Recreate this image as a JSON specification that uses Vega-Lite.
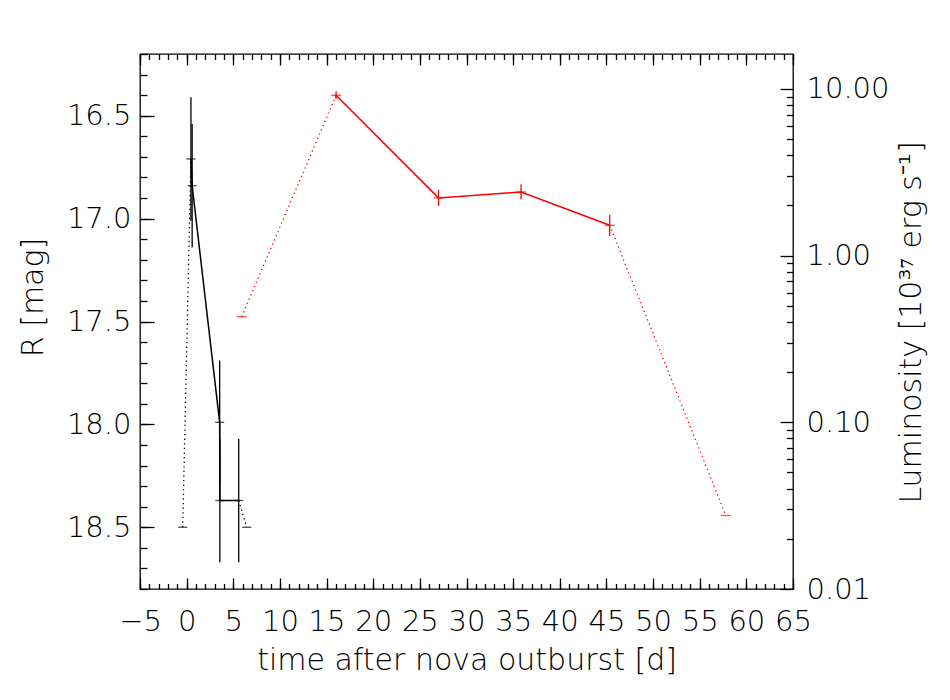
{
  "$schema": "https://vega.github.io/schema/vega-lite/v6.json",
  "autosize": "none",
  "width": 653,
  "height": 535,
  "padding": {"left": 140, "top": 54, "right": 157, "bottom": 111},
  "background": "white",
  "config": {
    "view": {"stroke": "black", "strokeWidth": 1.3},
    "axis": {
      "domain": false,
      "grid": false,
      "labelFont": "DejaVu Sans",
      "labelFontSize": 29,
      "labelFontWeight": 200,
      "labelColor": "black",
      "labelFlush": false,
      "labelOverlap": false,
      "labelBound": false,
      "tickColor": "black",
      "tickWidth": 1.3,
      "titleFont": "DejaVu Sans",
      "titleFontSize": 30,
      "titleFontWeight": 200,
      "titleColor": "black"
    }
  },
  "datasets": {
    "opt": [
      {"t": -0.42, "mag": 18.5, "lo": null, "hi": null},
      {"t": 0.46, "mag": 16.71, "lo": 16.41, "hi": 17.01},
      {"t": 0.59, "mag": 16.84, "lo": 16.54, "hi": 17.14},
      {"t": 3.54, "mag": 17.99, "lo": 17.69, "hi": 18.29},
      {"t": 3.56, "mag": 18.37, "lo": 18.07, "hi": 18.67},
      {"t": 5.58, "mag": 18.37, "lo": 18.07, "hi": 18.67},
      {"t": 6.44, "mag": 18.5, "lo": null, "hi": null}
    ],
    "optLine": [
      {"seg": "d1", "style": "dotted", "seq": 1, "t": -0.42, "mag": 18.5},
      {"seg": "d1", "style": "dotted", "seq": 2, "t": 0.46, "mag": 16.71},
      {"seg": "s1", "style": "solid", "seq": 1, "t": 0.46, "mag": 16.71},
      {"seg": "s1", "style": "solid", "seq": 2, "t": 0.59, "mag": 16.84},
      {"seg": "s1", "style": "solid", "seq": 3, "t": 3.54, "mag": 17.99},
      {"seg": "s1", "style": "solid", "seq": 4, "t": 3.56, "mag": 18.37},
      {"seg": "s1", "style": "solid", "seq": 5, "t": 5.58, "mag": 18.37},
      {"seg": "d2", "style": "dotted", "seq": 1, "t": 5.58, "mag": 18.37},
      {"seg": "d2", "style": "dotted", "seq": 2, "t": 6.44, "mag": 18.5}
    ],
    "lum": [
      {"t": 5.9, "L": 0.43, "lo": null, "hi": null},
      {"t": 16.02, "L": 9.16, "lo": 8.67, "hi": 9.68},
      {"t": 27.0, "L": 2.22, "lo": 1.99, "hi": 2.48},
      {"t": 35.85, "L": 2.41, "lo": 2.17, "hi": 2.68},
      {"t": 45.35, "L": 1.52, "lo": 1.31, "hi": 1.76},
      {"t": 57.8, "L": 0.0276, "lo": null, "hi": null}
    ],
    "lumLine": [
      {"seg": "d1", "style": "dotted", "seq": 1, "t": 5.9, "L": 0.43},
      {"seg": "d1", "style": "dotted", "seq": 2, "t": 16.02, "L": 9.16},
      {"seg": "s1", "style": "solid", "seq": 1, "t": 16.02, "L": 9.16},
      {"seg": "s1", "style": "solid", "seq": 2, "t": 27.0, "L": 2.22},
      {"seg": "s1", "style": "solid", "seq": 3, "t": 35.85, "L": 2.41},
      {"seg": "s1", "style": "solid", "seq": 4, "t": 45.35, "L": 1.52},
      {"seg": "d2", "style": "dotted", "seq": 1, "t": 45.35, "L": 1.52},
      {"seg": "d2", "style": "dotted", "seq": 2, "t": 57.8, "L": 0.0276}
    ]
  },
  "layer": [
    {
      "layer": [
        {
          "data": {"name": "opt"},
          "transform": [{"filter": "datum.lo != null"}],
          "mark": {"type": "rule", "color": "black", "strokeWidth": 1.3},
          "encoding": {
            "x": {"field": "t", "type": "quantitative", "scale": {"domain": [-5, 65], "nice": false, "zero": false},
              "axis": {"orient": "bottom", "ticks": false, "labelPadding": 18, "format": "d",
                "values": [-5, 0, 5, 10, 15, 20, 25, 30, 35, 40, 45, 50, 55, 60, 65],
                "title": "time after nova outburst [d]", "titleY": 71, "titleBaseline": "middle"}},
            "y": {"field": "lo", "type": "quantitative", "scale": {"domain": [16.2, 18.8], "reverse": true, "nice": false, "zero": false},
              "axis": {"orient": "left", "ticks": false, "labelPadding": 9, "format": ".1f",
                "values": [16.5, 17.0, 17.5, 18.0, 18.5],
                "title": "R [mag]", "titleX": -107, "titleY": 243, "titleBaseline": "middle", "titleAngle": 270}},
            "y2": {"field": "hi"}
          }
        },
        {
          "data": {"name": "opt"},
          "mark": {"type": "tick", "orient": "horizontal", "color": "black", "size": 9, "thickness": 1.3},
          "encoding": {
            "x": {"field": "t", "type": "quantitative", "scale": {"domain": [-5, 65], "nice": false, "zero": false},
              "axis": {"orient": "bottom", "labels": false, "tickSize": -11, "title": null,
                "values": [-5, 0, 5, 10, 15, 20, 25, 30, 35, 40, 45, 50, 55, 60, 65]}},
            "y": {"field": "mag", "type": "quantitative",
              "axis": {"orient": "left", "labels": false, "tickSize": -14, "title": null,
                "values": [16.5, 17.0, 17.5, 18.0, 18.5]}}
          }
        },
        {
          "data": {"name": "optLine"},
          "transform": [{"filter": "datum.style == 'solid'"}],
          "mark": {"type": "line", "color": "black", "strokeWidth": 1.5},
          "encoding": {
            "x": {"field": "t", "type": "quantitative", "scale": {"domain": [-5, 65], "nice": false, "zero": false},
              "axis": {"orient": "bottom", "labels": false, "tickSize": -5.5, "title": null,
                "values": [-5, -4, -3, -2, -1, 0, 1, 2, 3, 4, 5, 6, 7, 8, 9, 10, 11, 12, 13, 14, 15, 16, 17, 18, 19, 20, 21, 22, 23, 24, 25, 26, 27, 28, 29, 30, 31, 32, 33, 34, 35, 36, 37, 38, 39, 40, 41, 42, 43, 44, 45, 46, 47, 48, 49, 50, 51, 52, 53, 54, 55, 56, 57, 58, 59, 60, 61, 62, 63, 64, 65]}},
            "y": {"field": "mag", "type": "quantitative",
              "axis": {"orient": "left", "labels": false, "tickSize": -7, "title": null,
                "values": [16.2, 16.3, 16.4, 16.5, 16.6, 16.7, 16.8, 16.9, 17.0, 17.1, 17.2, 17.3, 17.4, 17.5, 17.6, 17.7, 17.8, 17.9, 18.0, 18.1, 18.2, 18.3, 18.4, 18.5, 18.6, 18.7, 18.8]}},
            "detail": {"field": "seg"},
            "order": {"field": "seq", "type": "quantitative"}
          }
        },
        {
          "data": {"name": "optLine"},
          "transform": [{"filter": "datum.style == 'dotted'"}],
          "mark": {"type": "line", "color": "black", "strokeWidth": 1.3, "strokeDash": [1.3, 3.3]},
          "encoding": {
            "x": {"field": "t", "type": "quantitative", "scale": {"domain": [-5, 65], "nice": false, "zero": false},
              "axis": {"orient": "top", "labels": false, "tickSize": -11, "title": null,
                "values": [-5, 0, 5, 10, 15, 20, 25, 30, 35, 40, 45, 50, 55, 60, 65]}},
            "y": {"field": "mag", "type": "quantitative", "axis": null},
            "detail": {"field": "seg"},
            "order": {"field": "seq", "type": "quantitative"}
          }
        }
      ],
      "resolve": {"axis": {"x": "independent", "y": "independent"}}
    },
    {
      "layer": [
        {
          "data": {"name": "lum"},
          "transform": [{"filter": "datum.lo != null"}],
          "mark": {"type": "rule", "color": "#ff0000", "strokeWidth": 1.3},
          "encoding": {
            "x": {"field": "t", "type": "quantitative", "scale": {"domain": [-5, 65], "nice": false, "zero": false},
              "axis": {"orient": "top", "labels": false, "tickSize": -5.5, "title": null,
                "values": [-5, -4, -3, -2, -1, 0, 1, 2, 3, 4, 5, 6, 7, 8, 9, 10, 11, 12, 13, 14, 15, 16, 17, 18, 19, 20, 21, 22, 23, 24, 25, 26, 27, 28, 29, 30, 31, 32, 33, 34, 35, 36, 37, 38, 39, 40, 41, 42, 43, 44, 45, 46, 47, 48, 49, 50, 51, 52, 53, 54, 55, 56, 57, 58, 59, 60, 61, 62, 63, 64, 65]}},
            "y": {"field": "lo", "type": "quantitative", "scale": {"type": "log", "domain": [0.01, 16.2], "nice": false},
              "axis": {"orient": "right", "ticks": false, "labelPadding": 13, "format": ".2f",
                "values": [0.01, 0.1, 1, 10],
                "title": "Luminosity [10³⁷ erg s⁻¹]", "titleX": 118, "titleY": 268, "titleBaseline": "middle", "titleAngle": 270}},
            "y2": {"field": "hi"}
          }
        },
        {
          "data": {"name": "lum"},
          "mark": {"type": "tick", "orient": "horizontal", "color": "#ff0000", "size": 10, "thickness": 1.3},
          "encoding": {
            "x": {"field": "t", "type": "quantitative", "scale": {"domain": [-5, 65], "nice": false, "zero": false}, "axis": null},
            "y": {"field": "L", "type": "quantitative",
              "axis": {"orient": "right", "labels": false, "tickSize": -13, "title": null,
                "values": [0.01, 0.1, 1, 10]}}
          }
        },
        {
          "data": {"name": "lumLine"},
          "transform": [{"filter": "datum.style == 'solid'"}],
          "mark": {"type": "line", "color": "#ff0000", "strokeWidth": 1.5},
          "encoding": {
            "x": {"field": "t", "type": "quantitative", "scale": {"domain": [-5, 65], "nice": false, "zero": false}, "axis": null},
            "y": {"field": "L", "type": "quantitative",
              "axis": {"orient": "right", "labels": false, "tickSize": -6.5, "title": null,
                "values": [0.02, 0.03, 0.04, 0.05, 0.06, 0.07, 0.08, 0.09, 0.2, 0.3, 0.4, 0.5, 0.6, 0.7, 0.8, 0.9, 2, 3, 4, 5, 6, 7, 8, 9]}},
            "detail": {"field": "seg"},
            "order": {"field": "seq", "type": "quantitative"}
          }
        },
        {
          "data": {"name": "lumLine"},
          "transform": [{"filter": "datum.style == 'dotted'"}],
          "mark": {"type": "line", "color": "#ff0000", "strokeWidth": 1.3, "strokeDash": [1.3, 3.3]},
          "encoding": {
            "x": {"field": "t", "type": "quantitative", "scale": {"domain": [-5, 65], "nice": false, "zero": false}, "axis": null},
            "y": {"field": "L", "type": "quantitative", "axis": null},
            "detail": {"field": "seg"},
            "order": {"field": "seq", "type": "quantitative"}
          }
        }
      ],
      "resolve": {"axis": {"x": "independent", "y": "independent"}}
    }
  ],
  "resolve": {"scale": {"y": "independent"}, "axis": {"x": "independent", "y": "independent"}}
}
